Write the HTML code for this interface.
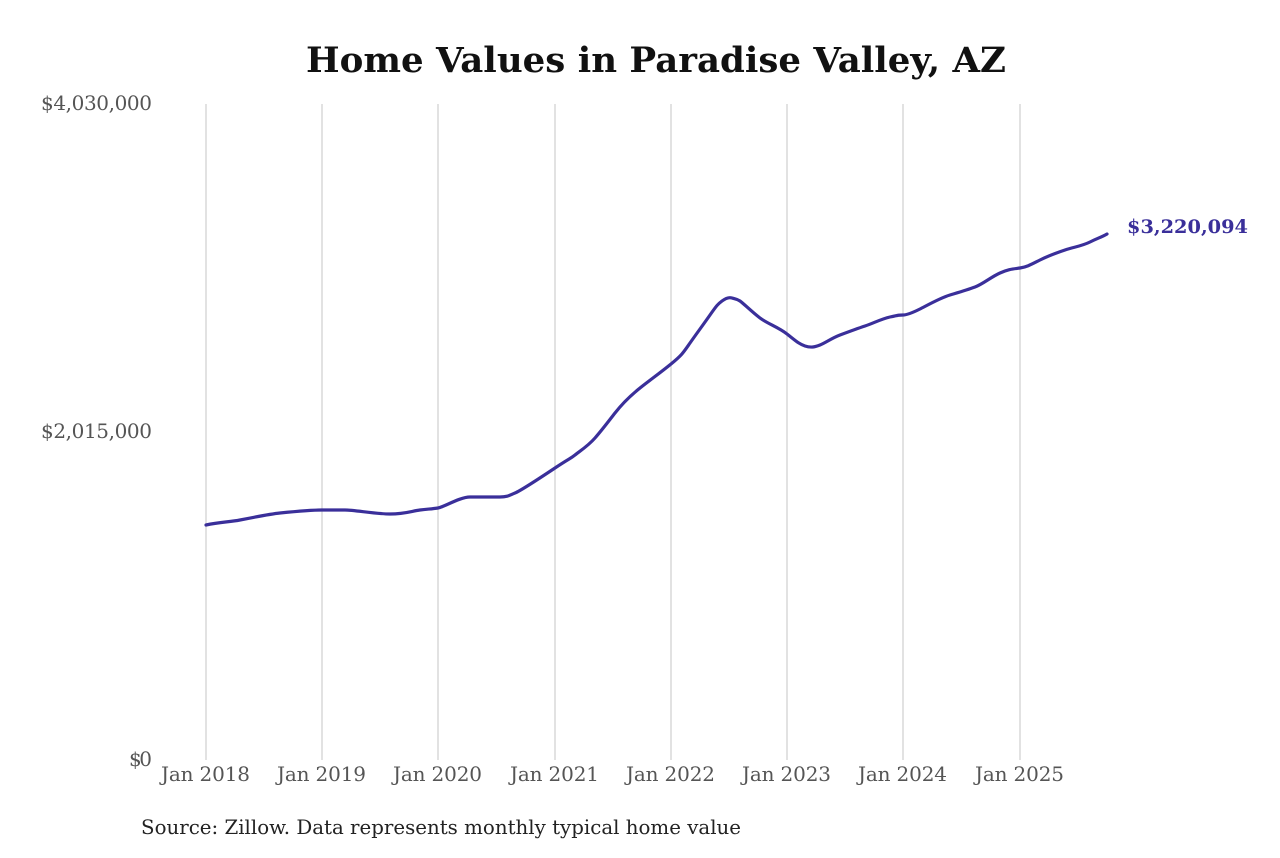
<!DOCTYPE html>
<html><head><meta charset="utf-8"><style>
html,body{margin:0;padding:0;background:#fff;}
</style></head><body>
<svg width="1280" height="853" xmlns="http://www.w3.org/2000/svg" font-family="'DejaVu Serif','Liberation Serif',serif">
<rect width="1280" height="853" fill="#fff"/>
<text x="306" y="72" font-size="35" font-weight="bold" fill="#111" textLength="700" lengthAdjust="spacingAndGlyphs">Home Values in Paradise Valley, AZ</text>
<g stroke="#c4c4c4" stroke-width="1">
<line x1="206" y1="104" x2="206" y2="760"/><line x1="322" y1="104" x2="322" y2="760"/>
<line x1="438" y1="104" x2="438" y2="760"/><line x1="555" y1="104" x2="555" y2="760"/>
<line x1="671" y1="104" x2="671" y2="760"/><line x1="787" y1="104" x2="787" y2="760"/>
<line x1="903" y1="104" x2="903" y2="760"/><line x1="1020" y1="104" x2="1020" y2="760"/>
</g>
<g font-size="20" fill="#555" lengthAdjust="spacingAndGlyphs">
<text x="41" y="110" textLength="111">$4,030,000</text>
<text x="41" y="438" textLength="111">$2,015,000</text>
<text x="129" y="766" textLength="23">$0</text>
</g>
<g font-size="20" fill="#555" lengthAdjust="spacingAndGlyphs">
<text x="161" y="781" textLength="89">Jan 2018</text><text x="277" y="781" textLength="89">Jan 2019</text>
<text x="393" y="781" textLength="89">Jan 2020</text><text x="510" y="781" textLength="89">Jan 2021</text>
<text x="626" y="781" textLength="89">Jan 2022</text><text x="742" y="781" textLength="89">Jan 2023</text>
<text x="858" y="781" textLength="89">Jan 2024</text><text x="975" y="781" textLength="89">Jan 2025</text>
</g>
<path fill="none" stroke="#3a2f9a" stroke-width="3.2" stroke-linejoin="round" stroke-linecap="round"
d="M206,525 C220,522 230,522 240,520 S270,514 280,513 S310,510 322,510 S335,510 345,510 S375,514 390,514 S412,511 420,510 S432,509 438,508 S460,497 470,497 S492,497 500,497 S510,495 515,493 S540,478 555,468 S570,459 575,455 S588,446 595,438 S608,422 615,413 S630,396 640,388 S660,373 671,364 S683,353 690,343 S703,325 710,315 S718,304 722,301 S729,297 732,298 S737,299 740,301 S752,312 760,318 S778,327 787,334 S799,344 805,346 S815,347 820,345 S832,338 840,335 S856,329 865,326 S881,319 890,317 S899,315 903,315 S914,312 920,309 S940,298 950,295 S967,290 975,287 S991,277 1000,273 S1013,269 1020,268 S1032,264 1040,260 S1056,253 1065,250 S1082,246 1090,242 S1102,237 1107,234"/>
<text x="1127" y="233" font-size="19" font-weight="bold" fill="#3a2f9a" textLength="121" lengthAdjust="spacingAndGlyphs">$3,220,094</text>
<text x="141" y="834" font-size="20" fill="#222" textLength="600" lengthAdjust="spacingAndGlyphs">Source: Zillow. Data represents monthly typical home value</text>
</svg>
</body></html>
